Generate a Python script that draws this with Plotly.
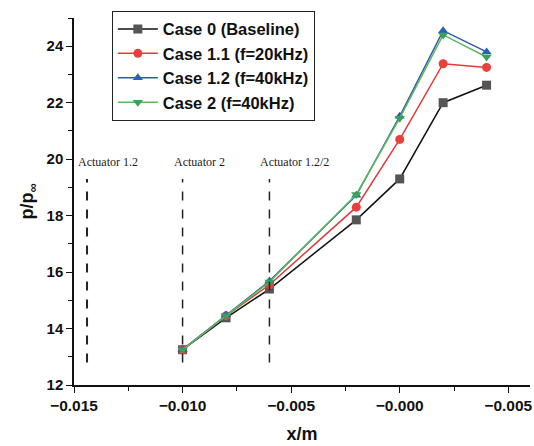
import plotly.graph_objects as go

x_pos = [-0.010, -0.008, -0.006, -0.002, 0.000, 0.002, 0.004]
case0 = [13.25, 14.38, 15.40, 17.85, 19.30, 22.00, 22.62]
case11 = [13.25, 14.45, 15.55, 18.30, 20.70, 23.38, 23.25]
case12 = [13.25, 14.48, 15.68, 18.72, 21.52, 24.55, 23.80]
case2 = [13.25, 14.45, 15.65, 18.75, 21.45, 24.40, 23.62]

names = ["Case 0 (Baseline)", "Case 1.1 (f=20kHz)", "Case 1.2 (f=40kHz)", "Case 2 (f=40kHz)"]
line_colors = ["#111111", "#e03a3a", "#2b5aa6", "#5cb85c"]
marker_colors = ["#555555", "#e8403c", "#2a62b8", "#3ca05a"]
symbols = ["square", "circle", "triangle-up", "triangle-down"]

actuator_x = [-0.0144, -0.010, -0.006]
actuator_labels = ["Actuator 1.2", "Actuator 2", "Actuator 1.2/2"]
actuator_y = [12.8, 19.3]
actuator_label_y = 19.9

xtick_vals = [-0.015, -0.010, -0.005, 0.000, 0.005]
xtick_text = ["\u22120.015", "\u22120.010", "\u22120.005", "\u22120.000", "\u22120.005"]
ytick_vals = [12, 14, 16, 18, 20, 22, 24]

fig = go.Figure()
for ys, nm, lc, mc, sym in zip([case0, case11, case12, case2], names, line_colors, marker_colors, symbols):
    fig.add_trace(go.Scatter(x=x_pos, y=ys, name=nm, mode="lines+markers",
                             line=dict(color=lc, width=1.5),
                             marker=dict(symbol=sym, size=9, color=mc)))

for i, (ax, lab) in enumerate(zip(actuator_x, actuator_labels)):
    fig.add_shape(type="line", x0=ax, x1=ax, y0=actuator_y[0], y1=actuator_y[1],
                  xref="x", yref="y",
                  line=dict(color="#222222", width=2 if i == 0 else 1.5, dash="dash"))
    fig.add_annotation(x=ax, y=actuator_label_y, text=lab, showarrow=False, xref="x", yref="y",
                       xanchor="left", xshift=-11,
                       font=dict(family="Liberation Serif", size=12, color="#222222"))

fig.update_layout(
    width=534, height=446,
    margin=dict(l=74, r=4, t=18, b=61),
    paper_bgcolor="white", plot_bgcolor="white",
    font=dict(family="Liberation Sans", color="#111111"),
    showlegend=True,
    legend=dict(x=0.083, y=1.02, xanchor="left", yanchor="top",
                bordercolor="#222222", borderwidth=1, bgcolor="white",
                font=dict(family="Liberation Sans", size=16.5, color="#111111", weight="bold"),
                tracegroupgap=0, itemwidth=40),
)
fig.update_xaxes(range=[-0.015, 0.006], tickvals=xtick_vals, ticktext=xtick_text, automargin=False,
                 showgrid=False, zeroline=False, showline=True, linecolor="#111111", linewidth=1.5,
                 ticks="outside", ticklen=6, tickwidth=1.2, tickcolor="#111111",
                 tickfont=dict(size=15.5, family="Liberation Sans", weight="bold"),
                 minor=dict(dtick=0.0025, tick0=-0.015, ticks="outside", ticklen=4, tickcolor="#111111"),
                 title=dict(text="<b>x/m</b>", font=dict(size=18), standoff=14))
fig.update_yaxes(range=[12, 25], tickvals=ytick_vals, automargin=False,
                 showgrid=False, zeroline=False, showline=True, linecolor="#111111", linewidth=1.5,
                 ticks="outside", ticklen=6, tickwidth=1.2, tickcolor="#111111",
                 tickfont=dict(size=15, family="Liberation Sans", weight="bold"),
                 minor=dict(dtick=1, tick0=12, ticks="outside", ticklen=4, tickcolor="#111111"),
                 title=dict(text="<b>p/p<sub>\u221e</sub></b>", font=dict(size=18), standoff=8))

fig.write_html("out.html", config={"displayModeBar": False},
               post_script="document.body.style.margin='0px';document.body.style.overflow='hidden';")
